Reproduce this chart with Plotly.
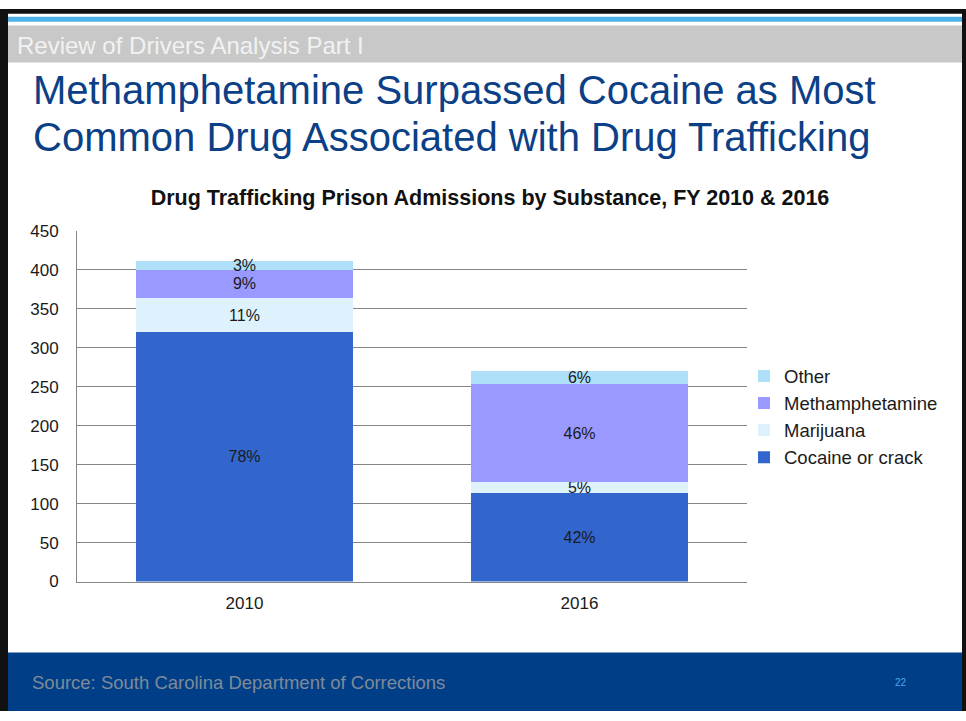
import plotly.graph_objects as go

# data
YEARS = ['2010', '2016']
SUBSTANCES = ['Cocaine or crack', 'Marijuana', 'Methamphetamine', 'Other']
COCAINE = [320, 114]
MARIJUANA = [44, 14]
METH = [36, 125]
OTHER = [11, 17]
COCAINE_PCT = ['78%', '42%']
MARIJUANA_PCT = ['11%', '5%']
METH_PCT = ['9%', '46%']
OTHER_PCT = ['3%', '6%']
Y_TICKS = [0, 50, 100, 150, 200, 250, 300, 350, 400, 450]

COLORS = ['#3366CC', '#DDF2FD', '#9999FF', '#AEE0FA']

W, H = 966, 721
FONT = 'Arial, Liberation Sans, sans-serif'
GRID = '#868686'


def px_x(x):
    return x / W


def px_y(y):
    return 1 - y / H


fig = go.Figure()

series = [(COCAINE, COCAINE_PCT), (MARIJUANA, MARIJUANA_PCT), (METH, METH_PCT), (OTHER, OTHER_PCT)]
for name, (vals, pct), color in zip(SUBSTANCES, series, COLORS):
    fig.add_trace(go.Bar(x=YEARS, y=vals, name=name, text=pct, texttemplate='%{text}',
                         textposition='inside', insidetextanchor='middle', constraintext='none',
                         textfont=dict(family=FONT, size=16, color='#1a1a1a'),
                         marker=dict(color=color, line=dict(width=0)),
                         cliponaxis=False, hoverinfo='x+y+name'))

fig.update_layout(
    width=W, height=H, margin=dict(l=0, r=0, t=0, b=0),
    paper_bgcolor='white', plot_bgcolor='white',
    barmode='stack', bargap=0.355,
    font=dict(family=FONT, color='#1a1a1a'),
    title=dict(text='Drug Trafficking Prison Admissions by Substance, FY 2010 & 2016',
               x=px_x(490), y=px_y(197), xanchor='center', yanchor='middle',
               font=dict(family=FONT, size=21.5, color='#111111', weight='bold')),
    legend=dict(x=px_x(744), y=px_y(419), xanchor='left', yanchor='middle',
                traceorder='reversed', font=dict(family=FONT, size=18.5, color='#1a1a1a'),
                bgcolor='rgba(0,0,0,0)'),
    showlegend=True,
)

fig.update_xaxes(domain=[px_x(77), px_x(747)], type='category', showgrid=False,
                 showline=True, linecolor=GRID, linewidth=1, ticks='',
                 tickfont=dict(family=FONT, size=17, color='#1a1a1a'), ticklabelstandoff=6)
fig.update_yaxes(domain=[px_y(588), px_y(228)], range=[0, 450], tickvals=Y_TICKS,
                 showgrid=True, gridcolor=GRID, gridwidth=1, zeroline=False,
                 showline=True, linecolor=GRID, linewidth=1, ticks='',
                 tickfont=dict(family=FONT, size=17, color='#1a1a1a'), ticklabelstandoff=14)

# slide decoration
shapes = [
    # top strips
    dict(x0=0, x1=W, y0=0, y1=5, color='#111111'),
    dict(x0=8, x1=962, y0=8, y1=13, color='#4DB0E6'),
    dict(x0=8, x1=962, y0=17, y1=55, color='#C8C8C8'),
    # footer
    dict(x0=8, x1=962, y0=661, y1=H, color='#003F87'),
    # side borders
    dict(x0=0, x1=8, y0=0, y1=H, color='#111111'),
    dict(x0=962, x1=W, y0=0, y1=H, color='#111111'),
]
for s in shapes:
    fig.add_shape(type='rect', xref='paper', yref='paper', layer='below',
                  x0=px_x(s['x0']), x1=px_x(s['x1']), y0=px_y(s['y0']), y1=px_y(s['y1']),
                  fillcolor=s['color'], line=dict(width=0))

fig.add_annotation(text='Review of Drivers Analysis Part I', xref='paper', yref='paper',
                   x=px_x(15), y=px_y(37), xanchor='left', yanchor='middle', showarrow=False,
                   font=dict(family=FONT, size=24, color='#F2F2F2'))
fig.add_annotation(text='Methamphetamine Surpassed Cocaine as Most', xref='paper', yref='paper',
                   x=px_x(31), y=px_y(83), xanchor='left', yanchor='middle', showarrow=False,
                   font=dict(family=FONT, size=40, color='#0B4086'))
fig.add_annotation(text='Common Drug Associated with Drug Trafficking', xref='paper', yref='paper',
                   x=px_x(31), y=px_y(131), xanchor='left', yanchor='middle', showarrow=False,
                   font=dict(family=FONT, size=40, color='#0B4086'))
fig.add_annotation(text='Source: South Carolina Department of Corrections', xref='paper', yref='paper',
                   x=px_x(30), y=px_y(692), xanchor='left', yanchor='middle', showarrow=False,
                   font=dict(family=FONT, size=18.5, color='#7F8A99'))
fig.add_annotation(text='22', xref='paper', yref='paper',
                   x=px_x(901), y=px_y(692), xanchor='center', yanchor='middle', showarrow=False,
                   font=dict(family=FONT, size=10, color='#4DA6E8'))

# pin the figure to the top-left corner of the window (no page margins)
page_css = ("document.documentElement.style.margin='0';"
            "document.body.style.margin='0';"
            "var gd=document.getElementById('{plot_id}');"
            "gd.style.position='fixed';gd.style.top='0px';gd.style.left='0px';")
fig.write_html('out.html', config={'displayModeBar': False}, post_script=page_css)
